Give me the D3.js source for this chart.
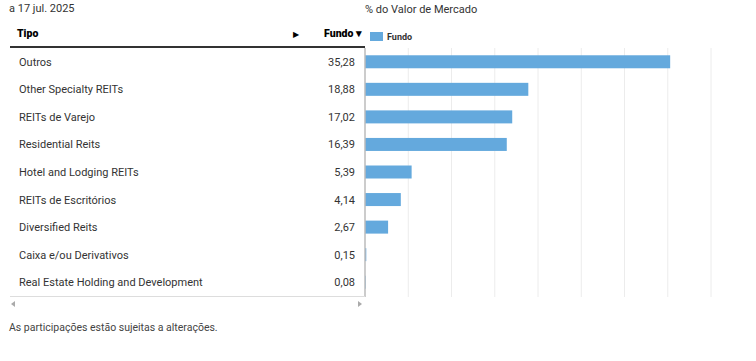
<!DOCTYPE html>
<html>
<head>
<meta charset="utf-8">
<script src="https://cdn.jsdelivr.net/npm/d3@7"></script>
<style>
  body { margin: 0; background: #fff; }
  svg { font-family: Roboto, "Noto Sans", sans-serif; }
</style>
</head>
<body>
<div id="chart"></div>
<script>
const categories = ["Outros", "Other Specialty REITs", "REITs de Varejo", "Residential Reits",
    "Hotel and Lodging REITs", "REITs de Escritórios", "Diversified Reits",
    "Caixa e/ou Derivativos", "Real Estate Holding and Development"];
const values = [35.28, 18.88, 17.02, 16.39, 5.39, 4.14, 2.67, 0.15, 0.08];
const ticks = [0, 5, 10, 15, 20, 25, 30, 35, 40];

const width = 756, height = 361;
const svg = d3.select("#chart").append("svg")
    .attr("width", width)
    .attr("height", height);

// layout of the table + bar area
const plotTop = 48, plotBottom = 296;
const x = d3.scaleLinear().domain([0, 40]).range([365, 711]);
const y = d3.scaleBand().domain(categories).range([plotTop, plotBottom]).padding(0);

svg.append("text").text("a 17 jul. 2025")
    .attr("x", 9).attr("y", 12).attr("font-size", 11).attr("fill", "#333");

svg.append("text").text("% do Valor de Mercado")
    .attr("x", 365).attr("y", 13).attr("font-size", 11).attr("fill", "#333");

// legend
svg.append("rect").attr("x", 370).attr("y", 32).attr("width", 13).attr("height", 9).attr("fill", "#64a9dd");
svg.append("text").text("Fundo").attr("x", 387).attr("y", 40)
    .attr("font-size", 9).attr("font-weight", 700).attr("fill", "#333");

// header
svg.append("text").text("Tipo").attr("x", 17).attr("y", 37)
    .attr("font-size", 10.5).attr("font-weight", 900).attr("fill", "#000");
svg.append("text").text("▶").attr("x", 293).attr("y", 37)
    .attr("font-size", 8).attr("fill", "#000");
svg.append("text").text("Fundo ▾").attr("x", 362).attr("y", 37)
    .attr("text-anchor", "end")
    .attr("font-size", 10.5).attr("font-weight", 900).attr("fill", "#000");
svg.append("line").attr("x1", 10).attr("x2", 365).attr("y1", 47).attr("y2", 47)
    .attr("stroke", "#333").attr("stroke-width", 2);

// gridlines
svg.append("g").selectAll("line").data(ticks.slice(1)).join("line")
    .attr("x1", d => x(d)).attr("x2", d => x(d))
    .attr("y1", plotTop).attr("y2", plotBottom + 1)
    .attr("stroke", "#ececec").attr("stroke-width", 1);

// bars
svg.append("g").selectAll("rect").data(values).join("rect")
    .attr("x", x(0))
    .attr("y", (d, i) => y(categories[i]) + y.bandwidth() / 2 - 6.5)
    .attr("width", d => x(d) - x(0))
    .attr("height", 13)
    .attr("fill", "#64a9dd");

// table rows
const rows = svg.append("g").selectAll("g").data(categories).join("g")
    .attr("transform", d => `translate(0,${y(d) + y.bandwidth() / 2 + 4})`);
rows.append("text").text(d => d).attr("x", 19)
    .attr("font-size", 11).attr("fill", "#333");
rows.append("text").text((d, i) => values[i].toFixed(2).replace(".", ","))
    .attr("x", 355).attr("text-anchor", "end")
    .attr("font-size", 11).attr("fill", "#333");

// axis line / table border
svg.append("line").attr("x1", x(0)).attr("x2", x(0)).attr("y1", plotTop).attr("y2", plotBottom + 1)
    .attr("stroke", "#bbb").attr("stroke-width", 1.5);
svg.append("line").attr("x1", 10).attr("x2", 365).attr("y1", plotBottom + 0.5).attr("y2", plotBottom + 0.5)
    .attr("stroke", "#ddd").attr("stroke-width", 1);

// scroll arrows
svg.append("path").attr("d", "M11,304 L15,301 L15,307 Z").attr("fill", "#aaa");
svg.append("path").attr("d", "M362,304 L358,301 L358,307 Z").attr("fill", "#aaa");

svg.append("text").text("As participações estão sujeitas a alterações.")
    .attr("x", 9).attr("y", 331).attr("font-size", 10.5).attr("fill", "#444");
</script>
</body>
</html>
